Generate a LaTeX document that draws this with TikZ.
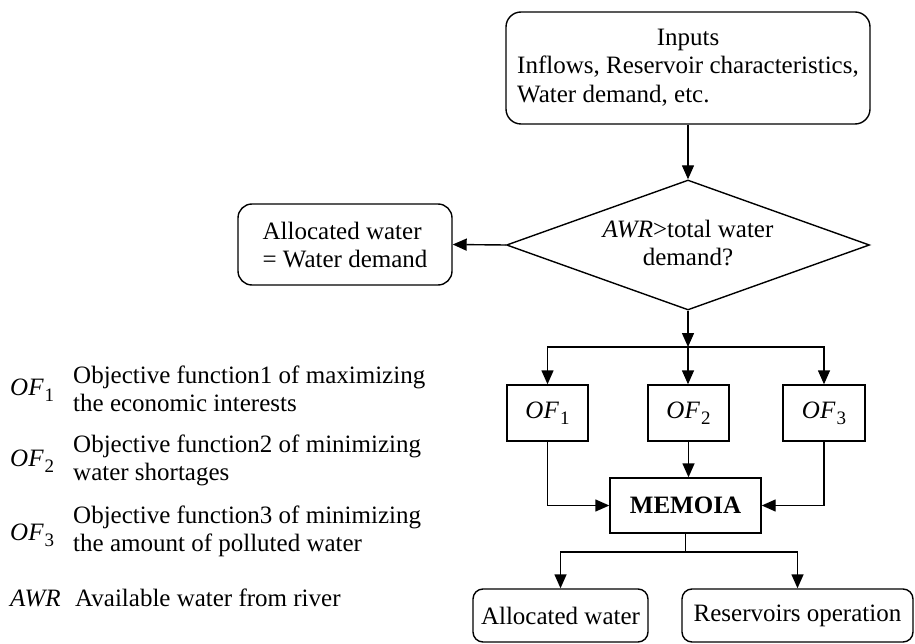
\documentclass[tikz,border=0pt]{standalone}
\usepackage{fontspec}
\setmainfont{Liberation Serif}
\usetikzlibrary{arrows.meta,shapes.geometric}
\newcommand\OFs[1]{\textit{OF}\kern1pt\raisebox{-6pt}{\fontsize{19}{19}\selectfont #1}}
\tikzset{
  ln/.style={line width=1.4pt},
  rbox/.style={draw, ln, rounded corners=14pt, inner sep=0pt},
  sbox/.style={draw, ln, inner sep=0pt},
  arr/.style={ln, -{Triangle[length=14pt,width=12pt]}},
  lgd/.style={anchor=base west, inner sep=0pt}
}
\begin{document}
\begin{tikzpicture}[x=1pt,y=-1pt,font=\fontsize{25}{28.5}\selectfont]
\useasboundingbox (0,0) rectangle (915,644);
% flow chart
\node[rbox, rounded corners=15pt, minimum width=364pt, minimum height=112pt] (inp) at (688,68)
  {\begin{tabular}{@{}l@{}}\multicolumn{1}{@{}c@{}}{Inputs}\\Inflows, Reservoir characteristics,\\Water demand, etc.\end{tabular}};
\node[draw, ln, diamond, shape aspect=2.8, minimum width=363pt, minimum height=130pt, inner sep=0pt] (dec) at (688,245)
  {\begin{tabular}{@{}c@{}}\rule{0pt}{22pt}\textit{AWR}>total water\\demand?\end{tabular}};
\node[rbox, minimum width=214pt, minimum height=81pt] (alw) at (345,244.5)
  {\begin{tabular}{@{}l@{}}\rule{0pt}{27pt}Allocated water\\= Water demand\end{tabular}};
\node[sbox, minimum width=81pt, minimum height=56pt] (of1) at (547.5,413) {\OFs{1}};
\node[sbox, minimum width=81pt, minimum height=56pt] (of2) at (688.5,413) {\OFs{2}};
\node[sbox, minimum width=82pt, minimum height=56pt] (of3) at (824,413) {\OFs{3}};
\node[sbox, minimum width=151pt, minimum height=55pt] (mem) at (685.5,505.5) {\textbf{MEMOIA}};
\node[rbox, rounded corners=10pt, minimum width=175pt, minimum height=53pt] (aw) at (560.5,615.5) {Allocated water};
\node[rbox, rounded corners=10pt, minimum width=231pt, minimum height=53pt] (ro) at (797.5,615.5) {Reservoirs operation};
\coordinate (j) at (688,347);
\coordinate (k) at (685.5,552);
\draw[arr] (inp.south) -- (dec.north);
\draw[arr] (dec.west) -- (alw.east);
\draw[arr] (dec.south) -- (j);
\draw[arr] (j) -| (of1.north);
\draw[arr] (j) -| (of3.north);
\draw[arr] (j) -- (j |- of2.north);
\draw[arr] (of2.south) -- (of2.south |- mem.north);
\draw[arr] (of1.south) |- (mem.west);
\draw[arr] (of3.south) |- (mem.east);
\draw[ln] (mem.south) -- (k);
\draw[arr] (k) -| (aw.north);
\draw[arr] (k) -| (ro.north);
% legend
\node[lgd] (l1s) at (10,395) {\OFs{1}};
\node[lgd] (l1t) at (73,383) {\begin{tabular}[t]{@{}l@{}}Objective function1 of maximizing\\the economic interests\end{tabular}};
\node[lgd] (l2s) at (10,466) {\OFs{2}};
\node[lgd] (l2t) at (73,452) {\begin{tabular}[t]{@{}l@{}}Objective function2 of minimizing\\water shortages\end{tabular}};
\node[lgd] (l3s) at (10,540) {\OFs{3}};
\node[lgd] (l3t) at (73,523) {\begin{tabular}[t]{@{}l@{}}Objective function3 of minimizing\\the amount of polluted water\end{tabular}};
\node[lgd] (l4s) at (10,606) {\textit{AWR}};
\node[lgd] (l4t) at (75,606) {Available water from river};
\end{tikzpicture}
\end{document}
